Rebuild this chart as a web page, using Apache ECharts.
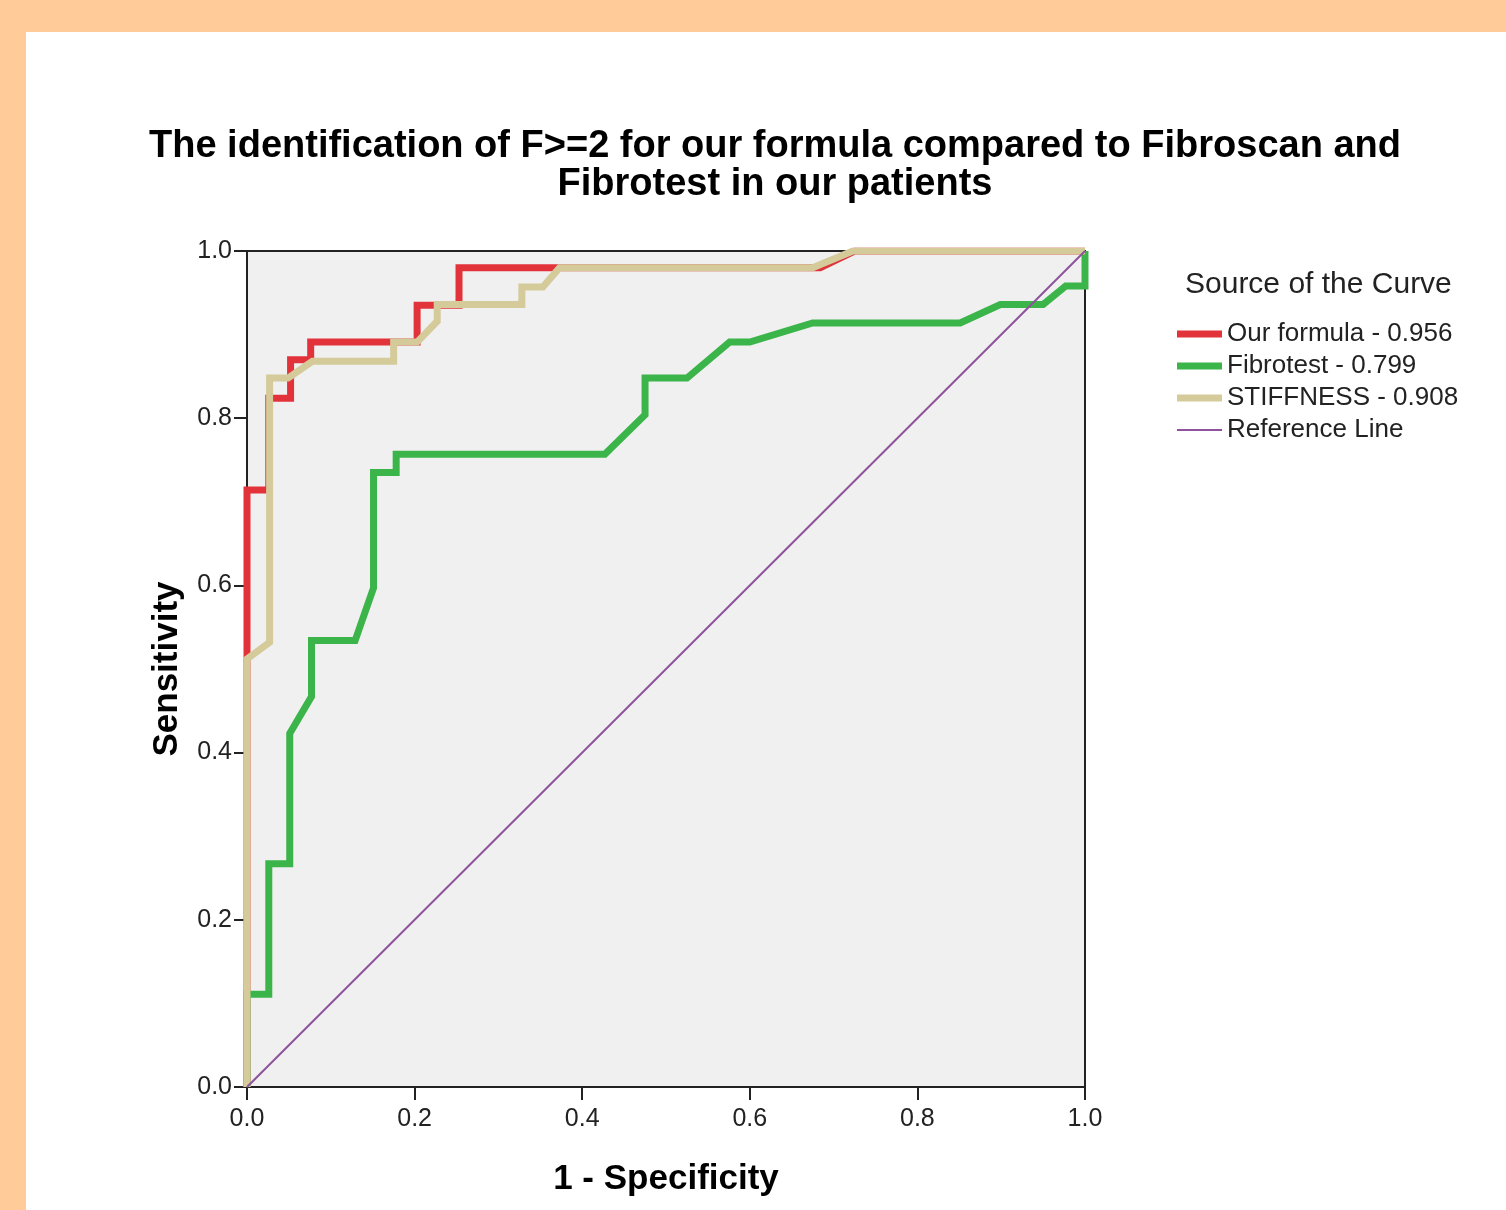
<!DOCTYPE html>
<html>
<head>
<meta charset="utf-8">
<script src="https://cdn.jsdelivr.net/npm/echarts@6/dist/echarts.min.js"></script>
<style>
  html, body { margin: 0; padding: 0; background: #ffcb99; width: 1506px; height: 1210px; overflow: hidden; }
  #main { position: absolute; left: 26px; top: 32px; width: 1480px; height: 1178px; background: #fff; }
</style>
</head>
<body>
<div id="main"></div>
<script>
// ROC points: [1 - specificity, sensitivity]
var ourFormula = [[0, 0], [0, 0.714], [0.026, 0.714], [0.026, 0.824], [0.052, 0.824], [0.052, 0.87],
  [0.076, 0.87], [0.076, 0.891], [0.203, 0.891], [0.203, 0.935], [0.253, 0.935], [0.253, 0.98],
  [0.684, 0.98], [0.725, 1], [1, 1]];
var fibrotest = [[0, 0], [0, 0.111], [0.026, 0.111], [0.026, 0.267], [0.051, 0.267], [0.051, 0.423],
  [0.077, 0.467], [0.077, 0.534], [0.129, 0.534], [0.151, 0.597], [0.151, 0.735], [0.178, 0.735],
  [0.178, 0.757], [0.427, 0.757], [0.475, 0.804], [0.475, 0.848], [0.525, 0.848], [0.576, 0.891],
  [0.6, 0.891], [0.675, 0.914], [0.851, 0.914], [0.899, 0.936], [0.95, 0.936], [0.977, 0.958],
  [1, 0.958], [1, 1]];
var stiffness = [[0, 0], [0, 0.512], [0.027, 0.532], [0.027, 0.848], [0.049, 0.848], [0.078, 0.868],
  [0.175, 0.868], [0.175, 0.891], [0.203, 0.891], [0.227, 0.916], [0.227, 0.936], [0.328, 0.936],
  [0.328, 0.957], [0.353, 0.957], [0.373, 0.98], [0.675, 0.98], [0.723, 1], [1, 1]];
var referenceLine = [[0, 0], [1, 1]];
var seriesNames = ['Our formula - 0.956', 'Fibrotest - 0.799', 'STIFFNESS - 0.908', 'Reference Line'];

var font = "'Liberation Sans', Arial, sans-serif";
var myChart = echarts.init(document.getElementById('main'));

function rocLine(name, data, color, width, z) {
  return {
    name: name,
    type: 'line',
    data: data,
    symbol: 'none',
    z: z,
    lineStyle: { color: color, width: width, join: 'miter', cap: 'butt' },
    itemStyle: { color: color },
    emphasis: { disabled: true },
    clip: true
  };
}

var option = {
  animation: false,
  textStyle: { fontFamily: font },
  title: [{
    text: 'The identification of F>=2 for our formula compared to Fibroscan and\nFibrotest in our patients',
    left: 749,
    top: 96,
    padding: 0,
    textAlign: 'center',
    textStyle: { fontFamily: font, fontSize: 38, fontWeight: 'bold', color: '#000', lineHeight: 38 }
  }, {
    text: 'Source of the Curve',
    left: 1159,
    top: 238,
    padding: 0,
    textStyle: { fontFamily: font, fontSize: 30, fontWeight: 'normal', color: '#222', lineHeight: 30 }
  }],
  legend: [{
    orient: 'vertical',
    left: 1151,
    top: 289,
    padding: 0,
    icon: 'rect',
    itemWidth: 45,
    itemHeight: 7,
    itemGap: 6,
    selectedMode: false,
    textStyle: { fontFamily: font, fontSize: 26, color: '#222', lineHeight: 26 },
    data: seriesNames.slice(0, 3)
  }, {
    orient: 'vertical',
    left: 1151,
    top: 385,
    padding: 0,
    icon: 'rect',
    itemWidth: 45,
    itemHeight: 2,
    selectedMode: false,
    textStyle: { fontFamily: font, fontSize: 26, color: '#222', lineHeight: 26 },
    data: seriesNames.slice(3)
  }],
  grid: {
    left: 221,
    top: 219,
    width: 838,
    height: 836,
    show: true,
    backgroundColor: '#f0f0f0',
    borderColor: '#222',
    borderWidth: 2
  },
  xAxis: {
    type: 'value',
    min: 0,
    max: 1,
    interval: 0.2,
    name: '1 - Specificity',
    nameLocation: 'middle',
    nameGap: 75,
    nameTextStyle: { fontFamily: font, fontSize: 35, fontWeight: 'bold', color: '#000' },
    axisLine: { show: true, lineStyle: { color: '#222', width: 2 } },
    axisTick: { show: true, inside: false, length: 13, lineStyle: { color: '#222', width: 2 } },
    axisLabel: {
      margin: 20, fontSize: 25, color: '#222', fontFamily: font,
      formatter: function (v) { return v.toFixed(1); }
    },
    splitLine: { show: false }
  },
  yAxis: {
    type: 'value',
    min: 0,
    max: 1,
    interval: 0.2,
    name: 'Sensitivity',
    nameLocation: 'middle',
    nameGap: 62,
    nameTextStyle: { fontFamily: font, fontSize: 35, fontWeight: 'bold', color: '#000' },
    axisLine: { show: true, lineStyle: { color: '#222', width: 2 } },
    axisTick: { show: true, inside: false, length: 13, lineStyle: { color: '#222', width: 2 } },
    axisLabel: {
      margin: 15, fontSize: 25, color: '#222', fontFamily: font,
      formatter: function (v) { return v.toFixed(1); }
    },
    splitLine: { show: false }
  },
  series: [
    rocLine(seriesNames[0], ourFormula, '#e2333b', 7, 2),
    rocLine(seriesNames[1], fibrotest, '#3bb44a', 7, 3),
    rocLine(seriesNames[2], stiffness, '#d4ca9a', 7, 4),
    rocLine(seriesNames[3], referenceLine, '#8e539c', 2, 5)
  ]
};

myChart.setOption(option, true);
</script>
</body>
</html>
